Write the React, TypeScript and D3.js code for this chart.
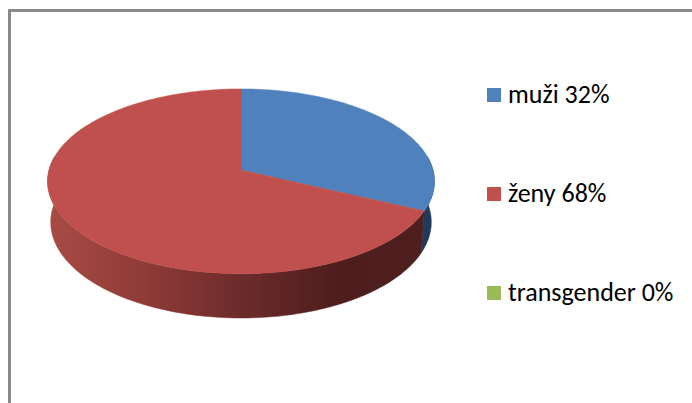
import React, { useRef, useEffect } from "react";
import * as d3 from "d3";

const categories = ["muži", "ženy", "transgender"];
const values = [32, 68, 0];
const colors = ["#4f81bd", "#c0504d", "#9bbb59"];
const wallColors = ["#203a5c", "url(#redWall)", "#5d7236"];

const W = 692;
const H = 403;

export default function App() {
  const ref = useRef<SVGSVGElement | null>(null);

  useEffect(() => {
    const svg = d3.select(ref.current);
    svg.selectAll("*").remove();
    svg.attr("width", W).attr("height", H);

    const defs = svg.append("defs");
    const grad = defs
      .append("linearGradient")
      .attr("id", "redWall")
      .attr("gradientUnits", "userSpaceOnUse")
      .attr("x1", 47)
      .attr("x2", 435)
      .attr("y1", 0)
      .attr("y2", 0);
    [
      [0, "#a84b45"],
      [0.25, "#8f3b38"],
      [0.5, "#6c2b2b"],
      [0.75, "#4e1d1d"],
      [1, "#4f1f1f"],
    ].forEach(([o, c]) =>
      grad.append("stop").attr("offset", o as number).attr("stop-color", c as string),
    );

    // chart area border
    svg
      .append("rect")
      .attr("x", 9.5)
      .attr("y", 10.5)
      .attr("width", 720)
      .attr("height", 440)
      .attr("fill", "#fff")
      .attr("stroke", "#8a8a8a")
      .attr("stroke-width", 3);

    // simple perspective projection of a tilted disc
    const cx = 241;
    const cy = 170;
    const f = 1377;
    const R = 0.1394;
    const thick = 0.034;
    const tilt = (28.3 * Math.PI) / 180;
    const s = Math.sin(tilt);
    const c = Math.cos(tilt);
    const project = (theta: number, h: number): [number, number] => {
      const u = R * Math.sin(theta);
      const v = R * Math.cos(theta);
      const Y = v * s + h * c;
      const Z = 1 + v * c - h * s;
      return [cx + (f * u) / Z, cy - (f * Y) / Z];
    };

    const pie = d3
      .pie<number>()
      .sort(null)
      .value((d) => d);
    const arcs = pie(values);
    const line = d3.line<[number, number]>();

    const sample = (a0: number, a1: number, h: number) => {
      const n = Math.max(2, Math.ceil(((a1 - a0) * 180) / Math.PI));
      return d3.range(n + 1).map((i) => project(a0 + ((a1 - a0) * i) / n, h));
    };

    // side walls (front half only, back half is hidden by the top)
    const frontA = Math.PI / 2 - 0.15;
    const frontB = (3 * Math.PI) / 2 + 0.15;
    arcs.forEach((a, i) => {
      const a0 = Math.max(a.startAngle, frontA);
      const a1 = Math.min(a.endAngle, frontB);
      if (a1 <= a0) return;
      const top = sample(a0, a1, 0);
      const bot = sample(a0, a1, -thick).reverse();
      svg
        .append("path")
        .attr("d", line([...top, ...bot]) + "Z")
        .attr("fill", wallColors[i])
        .attr("stroke", wallColors[i])
        .attr("stroke-width", 0.5);
    });

    // top faces
    arcs.forEach((a, i) => {
      if (a.endAngle - a.startAngle <= 0) return;
      const rim = sample(a.startAngle, a.endAngle, 0);
      svg
        .append("path")
        .attr("d", line([[cx, cy], ...rim]) + "Z")
        .attr("fill", colors[i])
        .attr("stroke", colors[i])
        .attr("stroke-width", 0.5);
    });

    // legend
    const ly = d3.scalePoint<string>().domain(categories).range([88, 286]);
    const leg = svg
      .append("g")
      .selectAll("g")
      .data(categories)
      .enter()
      .append("g")
      .attr("transform", (d) => `translate(487,${ly(d)})`);
    leg
      .append("rect")
      .attr("width", 14)
      .attr("height", 14)
      .attr("fill", (d, i) => colors[i]);
    leg
      .append("text")
      .attr("x", 21)
      .attr("y", 15)
      .attr("fill", "#000")
      .style("font-family", "Calibri, Carlito, Lato, sans-serif")
      .style("font-size", "26px")
      .text((d, i) => `${d} ${values[i]}%`);
  }, []);

  return (
    <svg
      ref={ref}
      style={{ position: "absolute", left: 0, top: 0, display: "block" }}
    />
  );
}
